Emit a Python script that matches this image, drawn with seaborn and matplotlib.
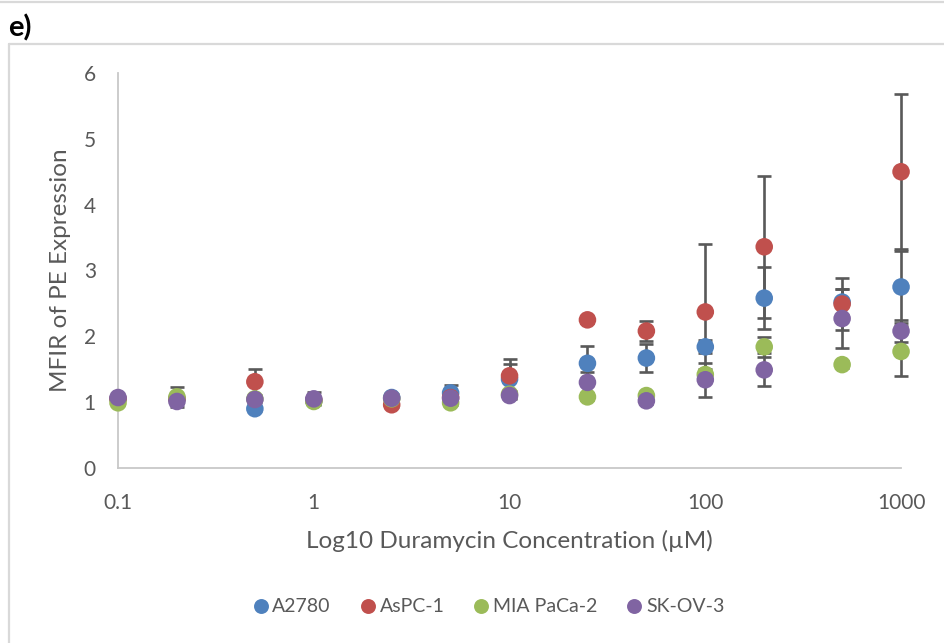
import numpy as np
import pandas as pd
import matplotlib
matplotlib.use("Agg")
import matplotlib.pyplot as plt
from matplotlib.lines import Line2D
from matplotlib.ticker import FixedLocator, NullLocator
import seaborn as sns

# ---- data ----
conc = [0.1, 0.2, 0.5, 1, 2.5, 5, 10, 25, 50, 100, 200, 500, 1000]
series_names = ["A2780", "AsPC-1", "MIA PaCa-2", "SK-OV-3"]
a2780 = [1.05, 1.05, 0.90, 1.02, 1.07, 1.14, 1.35, 1.59, 1.67, 1.84, 2.58, 2.52, 2.75]
a2780_err = [0.03, 0.03, 0.03, 0.05, 0.05, 0.12, 0.23, 0.27, 0.21, 0.10, 0.47, 0.20, 0.55]
aspc1 = [1.05, 1.05, 1.31, 1.03, 0.96, 1.07, 1.40, 2.25, 2.08, 2.37, 3.36, 2.49, 4.50]
aspc1_err = [0.03, 0.03, 0.20, 0.03, 0.03, 0.05, 0.26, 0.05, 0.15, 1.03, 1.08, 0.40, 1.18]
mia = [0.99, 1.08, 1.05, 1.01, 1.05, 0.99, 1.12, 1.08, 1.10, 1.42, 1.84, 1.57, 1.77]
mia_err = [0.03, 0.15, 0.05, 0.03, 0.03, 0.03, 0.05, 0.05, 0.05, 0.09, 0.15, 0.05, 0.38]
skov3 = [1.07, 1.01, 1.04, 1.05, 1.06, 1.06, 1.10, 1.30, 1.02, 1.34, 1.49, 2.27, 2.08]
skov3_err = [0.03, 0.03, 0.03, 0.10, 0.05, 0.05, 0.05, 0.16, 0.05, 0.26, 0.25, 0.45, 0.17]
xticks = [0.1, 1, 10, 100, 1000]
xtick_labels = ["0.1", "1", "10", "100", "1000"]
yticks = [0, 1, 2, 3, 4, 5, 6]

colors = ["#4F81BD", "#C0504D", "#9BBB59", "#8064A2"]
text_col = "#595959"

vals = [a2780, aspc1, mia, skov3]
errs = [a2780_err, aspc1_err, mia_err, skov3_err]
df = pd.concat([pd.DataFrame({"conc": conc, "val": v, "err": e, "line": n})
                for n, v, e in zip(series_names, vals, errs)], ignore_index=True)

sns.set_theme(style="white")
plt.rcParams["font.family"] = ["Lato", "DejaVu Sans"]

fig = plt.figure(figsize=(9.45, 6.43), dpi=100)
ax = fig.add_axes([0.1249, 0.2722, 0.8286, 0.6143])

# error bars (below markers)
for n, c in zip(series_names, colors):
    sub = df[df["line"] == n]
    eb = ax.errorbar(sub["conc"], sub["val"], yerr=sub["err"], fmt="none",
                     ecolor="#595959", elinewidth=1.9, capsize=5, capthick=1.9, zorder=1)
    for art in eb.lines[1] + eb.lines[2]:
        art.set_clip_on(False)

sns.scatterplot(data=df, x="conc", y="val", hue="line", hue_order=series_names,
                palette=colors, s=160, linewidth=0, alpha=1, ax=ax, zorder=3, clip_on=False)

ax.set_xscale("log")
ax.set_xlim(0.1, 1000)
ax.set_ylim(0, 6)
ax.xaxis.set_major_locator(FixedLocator(xticks))
ax.xaxis.set_minor_locator(NullLocator())
ax.set_xticklabels(xtick_labels)
ax.set_yticks(yticks)
ax.tick_params(axis="both", length=0, labelsize=15, colors=text_col)
ax.tick_params(axis="x", pad=18)
ax.tick_params(axis="y", pad=16)
for s in ["top", "right"]:
    ax.spines[s].set_visible(False)
for s in ["left", "bottom"]:
    ax.spines[s].set_color("#C8C8C8")
    ax.spines[s].set_linewidth(1.3)
ax.set_xlabel("Log10 Duramycin Concentration (µM)", fontsize=17.5, color=text_col, labelpad=12)
ax.set_ylabel("MFIR of PE Expression", fontsize=17.5, color=text_col, labelpad=9)

sns.move_legend(ax, "center", bbox_to_anchor=(0.515, 0.056), bbox_transform=fig.transFigure,
                ncol=4, frameon=False, title=None, fontsize=14, handletextpad=0.0,
                handlelength=1.2, columnspacing=1.3, markerscale=0.85)
for t in ax.get_legend().get_texts():
    t.set_color(text_col)

# panel label and frame
fig.text(8 / 945, 1 - 28 / 643, "e)", fontsize=21, fontweight="bold", color="black",
         va="center", ha="left")
H, W = 643, 945
fig.add_artist(Line2D([0, 1], [1 - 2 / H, 1 - 2 / H], transform=fig.transFigure,
                      color="#D9D9D9", lw=1.6))
fig.add_artist(Line2D([9.5 / W, 1], [1 - 43.5 / H, 1 - 43.5 / H], transform=fig.transFigure,
                      color="#D9D9D9", lw=1.6))
fig.add_artist(Line2D([9.5 / W, 9.5 / W], [0, 1 - 43.5 / H], transform=fig.transFigure,
                      color="#D9D9D9", lw=1.6))

fig.savefig("out.png", dpi=100)
